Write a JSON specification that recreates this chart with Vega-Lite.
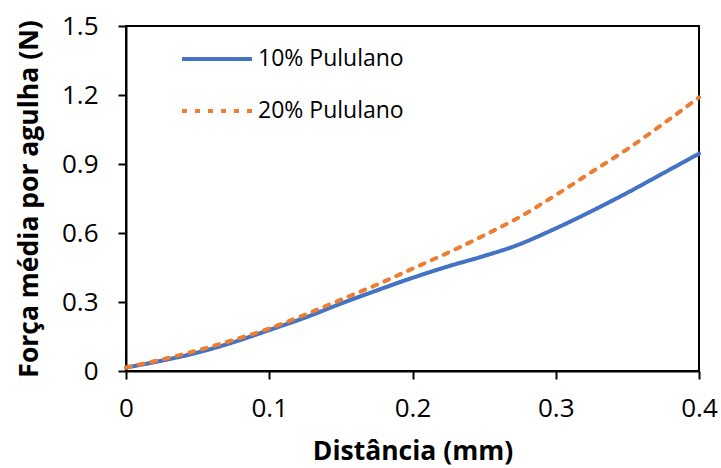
{
  "$schema": "https://vega.github.io/schema/vega-lite/v6.json",
  "autosize": "none",
  "width": 573,
  "height": 345,
  "padding": {"left": 126, "top": 26, "right": 22, "bottom": 97},
  "background": "white",
  "config": {
    "font": "Open Sans",
    "view": {"stroke": "black", "strokeWidth": 2},
    "axis": {
      "domainColor": "black", "domainWidth": 2, "tickColor": "black", "tickWidth": 2, "tickSize": 8,
      "labelFont": "Open Sans", "labelFontSize": 26, "labelColor": "black",
      "titleFont": "Open Sans", "titleFontSize": 26.5, "titleFontWeight": "bold", "titleColor": "black",
      "grid": false
    }
  },
  "data": {"values": [
    {"d": 0, "f": 0.015, "s": "10% Pululano"},
    {"d": 0.025, "f": 0.045, "s": "10% Pululano"},
    {"d": 0.05, "f": 0.08, "s": "10% Pululano"},
    {"d": 0.075, "f": 0.125, "s": "10% Pululano"},
    {"d": 0.1, "f": 0.178, "s": "10% Pululano"},
    {"d": 0.125, "f": 0.232, "s": "10% Pululano"},
    {"d": 0.15, "f": 0.293, "s": "10% Pululano"},
    {"d": 0.175, "f": 0.35, "s": "10% Pululano"},
    {"d": 0.2, "f": 0.405, "s": "10% Pululano"},
    {"d": 0.225, "f": 0.455, "s": "10% Pululano"},
    {"d": 0.25, "f": 0.5, "s": "10% Pululano"},
    {"d": 0.27, "f": 0.54, "s": "10% Pululano"},
    {"d": 0.3, "f": 0.62, "s": "10% Pululano"},
    {"d": 0.325, "f": 0.695, "s": "10% Pululano"},
    {"d": 0.35, "f": 0.775, "s": "10% Pululano"},
    {"d": 0.375, "f": 0.86, "s": "10% Pululano"},
    {"d": 0.4, "f": 0.945, "s": "10% Pululano"},
    {"d": 0, "f": 0.015, "s": "20% Pululano"},
    {"d": 0.025, "f": 0.05, "s": "20% Pululano"},
    {"d": 0.05, "f": 0.09, "s": "20% Pululano"},
    {"d": 0.075, "f": 0.135, "s": "20% Pululano"},
    {"d": 0.1, "f": 0.185, "s": "20% Pululano"},
    {"d": 0.125, "f": 0.245, "s": "20% Pululano"},
    {"d": 0.15, "f": 0.31, "s": "20% Pululano"},
    {"d": 0.175, "f": 0.375, "s": "20% Pululano"},
    {"d": 0.2, "f": 0.445, "s": "20% Pululano"},
    {"d": 0.225, "f": 0.515, "s": "20% Pululano"},
    {"d": 0.25, "f": 0.59, "s": "20% Pululano"},
    {"d": 0.275, "f": 0.67, "s": "20% Pululano"},
    {"d": 0.3, "f": 0.765, "s": "20% Pululano"},
    {"d": 0.325, "f": 0.865, "s": "20% Pululano"},
    {"d": 0.35, "f": 0.965, "s": "20% Pululano"},
    {"d": 0.375, "f": 1.075, "s": "20% Pululano"},
    {"d": 0.4, "f": 1.19, "s": "20% Pululano"}
  ]},
  "mark": {"type": "line", "strokeWidth": 4, "interpolate": "monotone", "strokeCap": "round"},
  "encoding": {
    "x": {"field": "d", "type": "quantitative", "title": "Distância (mm)",
      "scale": {"domain": [0, 0.4], "nice": false},
      "axis": {"values": [0, 0.1, 0.2, 0.3, 0.4], "labelPadding": 16, "titlePadding": 17, "labelFlush": false,
        "labelExpr": "datum.value == 0 ? '0' : format(datum.value, '.1f')"}},
    "y": {"field": "f", "type": "quantitative", "title": "Força média por agulha (N)",
      "scale": {"domain": [0, 1.5], "nice": false},
      "axis": {"values": [0, 0.3, 0.6, 0.9, 1.2, 1.5], "labelPadding": 20, "titlePadding": 18, "labelFlush": false,
        "labelExpr": "datum.value == 0 ? '0' : format(datum.value, '.1f')"}},
    "color": {"field": "s", "type": "nominal", "title": null,
      "scale": {"domain": ["10% Pululano", "20% Pululano"], "range": ["#4472C4", "#ED7D31"]},
      "legend": {"orient": "none", "legendX": 54, "legendY": 18, "padding": 0,
        "symbolType": "stroke", "symbolSize": 4900, "symbolStrokeWidth": 4, "clipHeight": 30, "rowPadding": 22,
        "labelFont": "Open Sans", "labelFontSize": 23, "labelColor": "black", "labelOffset": 4, "labelLimit": 300}},
    "strokeDash": {"field": "s", "type": "nominal", "title": null,
      "scale": {"domain": ["10% Pululano", "20% Pululano"], "range": [[1, 0], [5, 8]]},
      "legend": null}
  }
}
